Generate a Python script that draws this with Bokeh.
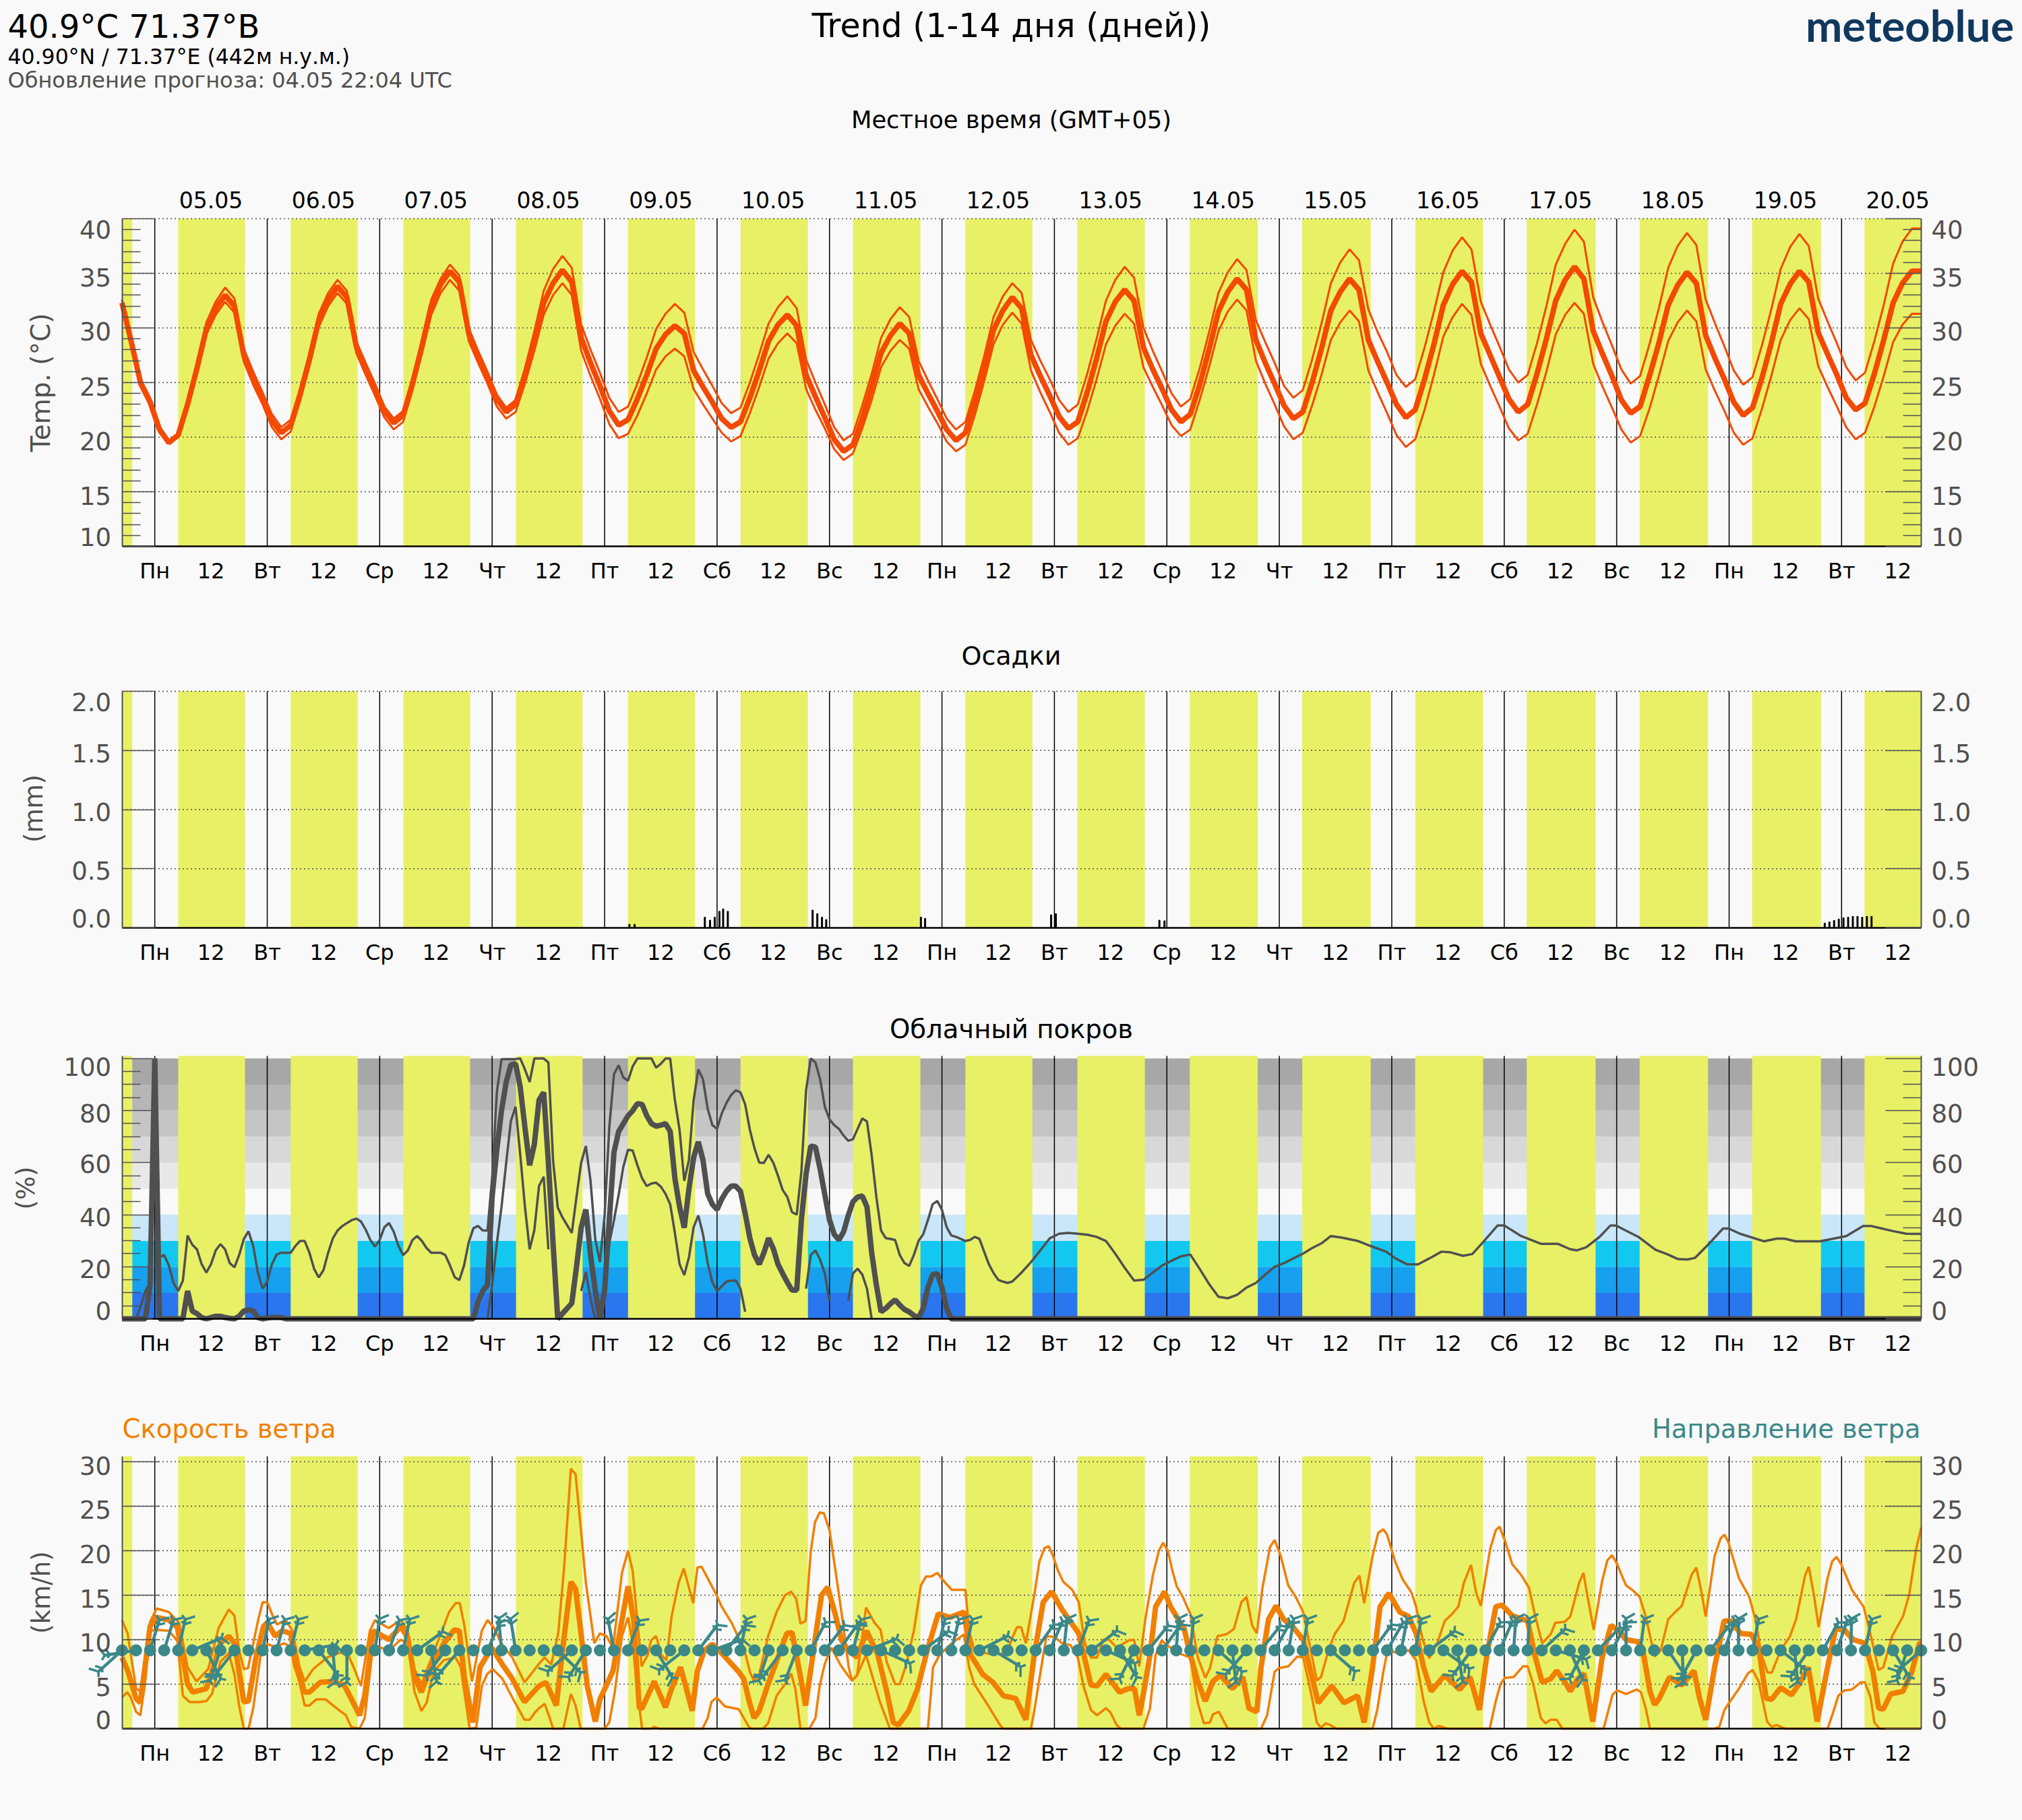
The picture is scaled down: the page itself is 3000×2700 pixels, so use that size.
from math import radians, sin, cos, pi
import numpy as np
from bokeh.plotting import figure
from bokeh.models import Label, LinearAxis, FixedTicker, Range1d
from bokeh.layouts import column
from bokeh.embed import file_html
from bokeh.resources import INLINE

nan = float("nan")

# hours counted from 04.05 17:00 local time
day_hours = [7, 31, 55, 79, 103, 127, 151, 175, 199, 223, 247, 271, 295, 319, 343, 367]
noon_hours = [19, 43, 67, 91, 115, 139, 163, 187, 211, 235, 259, 283, 307, 331, 355, 379]
day_names = ["Пн", "Вт", "Ср", "Чт", "Пт", "Сб", "Вс", "Пн", "Вт", "Ср", "Чт", "Пт", "Сб", "Вс", "Пн", "Вт"]
date_names = ["05.05", "06.05", "07.05", "08.05", "09.05", "10.05", "11.05", "12.05", "13.05", "14.05",
              "15.05", "16.05", "17.05", "18.05", "19.05", "20.05"]

sun_up = [0, 12.0, 36.0, 60.05, 84.1, 108.0, 132.0, 156.0, 180.0, 203.9, 227.9, 251.9, 276.0, 299.8, 323.9, 347.9, 371.9]
sun_down = [2.2, 26.25, 50.3, 74.3, 98.3, 122.3, 146.4, 170.4, 194.3, 218.3, 242.4, 266.5, 290.5, 314.5, 338.5, 362.6, 384]

temp_hours = list(range(0, 385, 2))
temp_mean = [32.3, 28.7, 24.9, 23.2, 20.7,
    19.5, 20.2, 23.0, 26.3, 29.9, 31.8, 33.0, 32.0, 27.5, 25.4, 23.6, 21.5,
    20.4, 21.1, 23.9, 27.1, 30.7, 32.6, 33.8, 32.8, 28.3, 26.3, 24.4, 22.4,
    21.3, 22.0, 24.9, 28.3, 32.0, 34.0, 35.2, 34.2, 29.5, 27.5, 25.5, 23.5,
    22.3, 23.0, 25.7, 28.8, 32.3, 34.1, 35.3, 34.2, 29.1, 26.8, 24.7, 22.4,
    21.1, 21.6, 23.5, 25.7, 28.1, 29.4, 30.2, 29.5, 26.1, 24.6, 23.2, 21.7,
    20.9, 21.4, 23.6, 26.1, 28.8, 30.3, 31.2, 30.2, 25.7, 23.7, 21.8, 19.8,
    18.7, 19.3, 21.7, 24.6, 27.7, 29.3, 30.4, 29.5, 25.7, 24.0, 22.4, 20.7,
    19.7, 20.4, 23.1, 26.3, 29.8, 31.6, 32.8, 31.8, 27.5, 25.6, 23.8, 21.9,
    20.8, 21.4, 24.1, 27.2, 30.6, 32.4, 33.5, 32.5, 28.2, 26.2, 24.4, 22.5,
    21.4, 22.1, 24.8, 28.0, 31.5, 33.3, 34.5, 33.5, 28.9, 26.8, 24.9, 22.9,
    21.7, 22.3, 25.0, 28.1, 31.6, 33.3, 34.5, 33.5, 28.9, 26.9, 25.0, 23.0,
    21.8, 22.5, 25.3, 28.5, 32.1, 34.0, 35.2, 34.2, 29.5, 27.5, 25.5, 23.5,
    22.3, 23.0, 25.8, 29.0, 32.5, 34.4, 35.6, 34.5, 29.7, 27.6, 25.6, 23.4,
    22.2, 22.8, 25.6, 28.6, 32.1, 33.9, 35.1, 34.1, 29.3, 27.2, 25.3, 23.2,
    22.0, 22.7, 25.4, 28.6, 32.2, 34.0, 35.2, 34.2, 29.6, 27.6, 25.7, 23.6,
    22.5, 23.1, 25.8, 28.9, 32.3, 34.1, 35.2, 35.2]
temp_low = [32.0, 28.4, 24.7, 22.9, 20.4,
    19.4, 20.0, 22.8, 25.9, 29.4, 31.2, 32.4, 31.4, 26.9, 24.8, 23.0, 20.9,
    19.8, 20.5, 23.3, 26.5, 30.1, 32.0, 33.2, 32.2, 27.7, 25.7, 23.8, 21.8,
    20.7, 21.4, 24.3, 27.6, 31.2, 33.2, 34.4, 33.4, 28.8, 26.8, 24.9, 22.8,
    21.7, 22.3, 24.9, 27.9, 31.2, 33.0, 34.1, 33.0, 27.9, 25.6, 23.5, 21.2,
    19.9, 20.3, 22.0, 24.0, 26.2, 27.4, 28.1, 27.4, 24.4, 23.0, 21.7, 20.4,
    19.6, 20.1, 22.2, 24.6, 27.2, 28.6, 29.5, 28.6, 24.4, 22.5, 20.8, 18.9,
    17.9, 18.5, 20.8, 23.4, 26.4, 27.9, 28.9, 28.1, 24.4, 22.8, 21.3, 19.6,
    18.7, 19.3, 22.0, 25.1, 28.5, 30.3, 31.4, 30.4, 26.1, 24.1, 22.3, 20.4,
    19.3, 19.9, 22.4, 25.3, 28.5, 30.2, 31.3, 30.4, 26.4, 24.6, 22.9, 21.1,
    20.1, 20.7, 23.4, 26.4, 29.7, 31.5, 32.6, 31.6, 27.0, 24.9, 23.0, 21.0,
    19.8, 20.4, 22.9, 25.7, 28.9, 30.5, 31.6, 30.6, 26.1, 24.1, 22.2, 20.2,
    19.1, 19.8, 22.5, 25.7, 29.2, 31.0, 32.2, 31.2, 26.7, 24.7, 22.8, 20.8,
    19.7, 20.3, 23.0, 26.0, 29.4, 31.2, 32.3, 31.3, 26.7, 24.6, 22.7, 20.7,
    19.5, 20.1, 22.6, 25.6, 28.8, 30.5, 31.6, 30.6, 26.2, 24.2, 22.4, 20.4,
    19.3, 19.9, 22.6, 25.6, 28.9, 30.7, 31.8, 30.8, 26.5, 24.6, 22.8, 20.9,
    19.8, 20.4, 22.8, 25.6, 28.7, 30.3, 31.3, 31.3]
temp_high = [32.6, 29.1, 25.3, 23.6, 21.0,
    19.6, 20.3, 23.3, 26.7, 30.5, 32.4, 33.7, 32.7, 28.1, 26.0, 24.1, 22.1,
    20.9, 21.6, 24.4, 27.7, 31.3, 33.2, 34.4, 33.4, 28.8, 26.8, 24.9, 22.8,
    21.7, 22.4, 25.4, 28.8, 32.6, 34.5, 35.8, 34.8, 30.0, 27.9, 26.0, 23.9,
    22.7, 23.4, 26.3, 29.7, 33.4, 35.4, 36.6, 35.5, 30.3, 28.0, 25.9, 23.6,
    22.3, 22.8, 24.9, 27.3, 29.9, 31.3, 32.2, 31.4, 27.8, 26.2, 24.7, 23.1,
    22.2, 22.7, 25.0, 27.6, 30.4, 31.9, 32.9, 31.8, 27.1, 25.0, 23.0, 20.9,
    19.7, 20.3, 22.9, 25.8, 29.1, 30.8, 31.9, 31.0, 27.0, 25.2, 23.5, 21.7,
    20.7, 21.4, 24.2, 27.4, 31.0, 32.9, 34.1, 33.2, 28.9, 27.0, 25.3, 23.4,
    22.3, 23.0, 25.8, 29.0, 32.5, 34.4, 35.6, 34.6, 30.0, 27.9, 26.0, 24.0,
    22.8, 23.5, 26.3, 29.6, 33.2, 35.1, 36.3, 35.3, 30.7, 28.7, 26.8, 24.7,
    23.6, 24.3, 27.1, 30.4, 34.1, 36.0, 37.2, 36.2, 31.7, 29.6, 27.8, 25.7,
    24.6, 25.3, 28.2, 31.5, 35.1, 37.1, 38.3, 37.2, 32.4, 30.3, 28.3, 26.2,
    25.0, 25.7, 28.6, 32.0, 35.8, 37.7, 39.0, 37.9, 32.8, 30.5, 28.4, 26.2,
    24.9, 25.6, 28.5, 31.8, 35.5, 37.5, 38.7, 37.6, 32.6, 30.4, 28.3, 26.1,
    24.8, 25.5, 28.4, 31.7, 35.4, 37.4, 38.6, 37.5, 32.7, 30.6, 28.6, 26.4,
    25.2, 25.9, 28.8, 32.1, 35.9, 37.9, 39.1, 39.1]

rain_hours = [108.3, 109.4, 124.4, 125.5, 126.5, 127.5, 128.3, 129.3, 147.4, 148.4, 149.4, 150.3,
              170.5, 171.4, 198.3, 199.3, 221.4, 222.5,
              363.4, 364.4, 365.4, 366.4, 367.4, 368.4, 369.4, 370.4, 371.4, 372.4, 373.4]
rain_mm = [0.03, 0.03, 0.09, 0.065, 0.09, 0.14, 0.16, 0.14, 0.15, 0.12, 0.09, 0.07,
           0.09, 0.08, 0.11, 0.12, 0.065, 0.06,
           0.04, 0.05, 0.063, 0.074, 0.085, 0.09, 0.097, 0.097, 0.09, 0.097, 0.097]

cloud_band_low = [0, 10, 20, 30, 40, 50, 60, 70, 80, 90]
cloud_band_colors = ["#2a76ee", "#16a0ef", "#12c8f1", "#c9e7f9", "#f9f9f9",
                     "#e8e8e8", "#d8d8d8", "#c5c5c5", "#b6b6b6", "#a7a7a7"]

cloud_mean_hours = list(range(178)) + [384]
cloud_mean = [0, 0, 0, 0, 0, 0, 13, 100, 0, 0, 0, 0, 0, 0, 10.7, 3, 2, 0.5, 0, 0.5,
    1, 1, 0.5, 0.2, 0, 1, 3, 3.5, 3, 0.5, 0, 0.3, 0.5, 0.5, 0.5] + [0] * 41 + [
    6.7, 10.7, 13, 47, 65, 80, 91, 97.6, 98, 89, 73.5, 59, 67, 84, 87, 60, 29, 0, 2, 4,
    6, 20, 35, 42, 24.5, 11, 0, 11, 38, 64, 72, 75, 78, 80, 82.7, 82.4, 78, 75, 74, 74.4,
    75, 72, 54, 43, 35, 50, 62, 68, 61, 48, 44, 42, 46, 49, 51, 51, 49, 40.5, 31, 24.5,
    21, 25.4, 31, 27, 21, 17.4, 14, 11, 11, 38, 55.7, 66.4, 66, 57.5, 47.7, 38, 32.5, 30.3, 33.4, 39.7,
    45, 46.8, 47.2, 43, 25.4, 13, 2.7, 4, 5.8, 7.3, 5.3, 3.6, 2.7, 1.3, 0.4, 4, 12, 17, 17.4, 12, 4, 0, 0]

cloud_high_hours = list(range(191)) + [192, 194, 196, 198, 200, 202, 204, 206, 208, 210, 212, 214, 216, 218,
    220, 222, 224, 226, 228, 230, 232, 234, 236, 238, 240, 242, 244, 246, 248, 250, 252, 254, 256, 258,
    260.3, 263.8, 266.6, 269.8, 271.8, 274.2, 276.6, 279, 281.6, 283.4, 286.2, 288.2, 290.6, 293.6, 295,
    298.6, 302.9, 306.5, 309, 310.5, 312.5, 315.3, 317.7, 318.9, 323.7, 327.3, 329.7, 332, 334.1, 335.7,
    338.9, 341.7, 342.9, 345.3, 350.4, 353.2, 354.8, 357.2, 362.4, 368, 371.6, 373.2, 378, 380.8, 384]
cloud_high = [0, 0, 0, 0, 4.9, 10.7, 13.8, 100, 23.6, 24.5, 20.5, 13.8, 10.7, 14.7, 32, 28.5, 26.7, 21, 17.8, 21,
    26.3, 28.7, 26.7, 21.4, 19.8, 24.5, 30.7, 33.6, 28, 17.8, 11.6, 14.3, 21, 24.7, 25.4, 25.4, 25.4, 28, 29.9, 29.9,
    25.4, 19.2, 15.9, 18.7, 25.4, 30.9, 33.9, 35.6, 36.8, 37.9, 38.5, 37.4, 34.3, 30.3, 27.8, 30.3, 35.2, 36.8, 33.4, 28,
    24.5, 26.3, 30.3, 31.8, 29.9, 27.2, 25.4, 25.4, 25.4, 24.5, 20.5, 16, 14.9, 20.5, 29.4, 34.8, 35.7, 33.9, 33.9, 54,
    87, 99.8, 99.8, 99.8, 99.8, 100, 95.8, 91, 100, 100, 100, 98.5, 61, 42.8, 39, 36, 33, 46.8, 60, 66.4,
    53, 30.7, 21.8, 39.7, 73.5, 94, 97.4, 92.7, 91.5, 97, 100, 100, 100, 100, 96.5, 98, 100, 100, 84, 72.6,
    53, 61, 84, 95.8, 92, 80.7, 74.4, 73, 78.9, 82.9, 86, 87.8, 87, 82.4, 72.6, 65.5, 60, 59.9, 63, 60,
    55, 49.5, 46.8, 41, 40, 56.6, 87.8, 100, 98.5, 92, 81.5, 76.6, 74.4, 73, 70.4, 68.4, 69, 73, 77, 75.8,
    62.8, 46.8, 33.9, 31, 30.7, 30.3, 24.5, 21.4, 20.3, 24.5, 29.9, 32.5, 37.9, 44, 45.3, 41.9, 35.2, 32, 31.5, 30.7,
    29.9, 30.3, 31.5, 30.7, 25.8, 21, 17.6, 15, 14.3, 13.8, 14.3,
    17.8, 21.8, 26.3, 30.9, 32.7, 33, 32.7, 32.3, 31.5, 29.9, 25, 19.6, 14.7, 15,
    17.8, 20.5, 22.3, 24, 24.7, 19.2, 13.4, 8.5, 7.9, 9.2, 12, 13.8, 17, 20, 21.4, 23.2, 25, 27.2, 29, 31.8,
    31.2, 29.9, 27.9, 25.8, 23.2, 21, 20.9, 23.2, 25.8, 25.6, 24.2, 24.9, 29.7, 35.9, 35.9,
    31.8, 28.8, 28.8, 26.8, 26.3, 27.5, 31.4, 35.9, 35.8, 31.4, 26.5, 24.9, 23, 22.8, 23.4,
    29.2, 34.7, 34.7, 32.7, 29.8, 30.8, 30.8, 29.8, 29.8, 31.8, 35.7, 35.7, 33.7, 32.7, 32.6]

cloud_low_hours = [78, 79, 80, 81, 82, 83, 84, 85, 86, 87, 88, 89, 90, 91, 92,
    98, 99, 100, 101, 102,
    103, 104, 105, 106, 107, 108, 109, 110, 111, 112, 113, 114, 115, 116, 117, 118,
    119, 120, 121, 122, 123, 124, 125, 126, 127, 128, 129, 130, 131, 132, 133, 134,
    146, 147, 148, 149, 150, 151, 152,
    155, 156, 157, 158, 159, 160]
cloud_low = [0, 13, 29, 43, 60, 76, 81.5, 63, 43, 26.7, 34, 51, 54.6, 26.7, nan,
    10.7, 18, 7.6, 0, nan,
    11.6, 29, 37.9, 47.7, 58.4, 65, 64.6, 59, 54, 51, 52, 52.3, 50.8, 48, 44, 33,
    21, 16.8, 23.6, 35.2, 39.7, 32.5, 21.4, 14, 10.7, 12.5, 14.3, 14.7, 14.7, 11.6, 2.7, nan,
    11.6, 24.5, 26.3, 22.7, 17.4, 6.7, nan,
    6.9, 17.4, 19.3, 17, 11.6, 0]

wind_mean_hours = [0, 1.3, 3, 3.9, 4.9, 6, 7.4, 10, 11.8, 13, 14, 15.1, 18, 19.5, 21, 22.8, 24, 25, 26, 27, 28.7,
    30.2, 31, 32.7, 34.2, 36, 37, 39, 40, 42.3, 44.9, 47.4, 48.9, 50.7, 51.8, 53.6, 57, 59.5, 61, 62.4, 63.9,
    65.8, 68.7, 70.9, 72, 73.1, 74.9, 76.4, 78.9, 81.2, 83.3, 85.9, 89, 90.5, 92.7, 94.2, 95.8, 96.8, 97.9, 99.3,
    101, 102, 104.8, 106.3, 108, 109.2, 110.4, 111, 113.6, 116, 117.3, 119.2, 120.3, 121.7, 122.8, 124.3, 126,
    128.3, 131.6, 132.7, 133.8, 134.9, 136, 137.9, 140, 141.9, 143, 144.5, 145.9, 147.8, 149.3, 150.6, 152.2,
    153.6, 155, 156.9, 158.9, 161.3, 163.2, 164.6, 165.7, 167.9, 169.8, 171.6, 174.2, 176.7, 179.7, 181.1,
    183.7, 185.9, 188.1, 190.7, 192.9, 194.7, 196.6, 198.4, 200.6, 204.2, 206.8, 208.1, 210, 211.6, 212.9,
    214.8, 216.1, 217.1, 218, 219.4, 220.6, 222.5, 223.8, 225.4, 226.7, 228, 229.6, 231.2, 232.8, 234.4, 237,
    239.2, 240.5, 242.2, 243.1, 244.7, 246.3, 247.9, 249.8, 252.1, 253.7, 255.3, 258.2, 260.8, 263.7, 265.1,
    266.9, 268.5, 270.4, 272.7, 274.6, 276.2, 277.8, 279.4, 282.3, 285.5, 287.7, 289.7, 291.3, 293.2, 294.5,
    296.7, 300, 301.5, 303.1, 304.9, 306.2, 307.9, 309.1, 310.7, 312, 313.9, 315.9, 317.8, 319.4, 321, 323.3,
    324.5, 326.1, 327.1, 328.1, 330.3, 332.9, 335.5, 336.7, 338, 339.9, 341.9, 343.5, 345.4, 347.7, 349.3,
    350.9, 352.1, 354, 356.3, 357.9, 359.9, 361.8, 363.7, 365.7, 367.6, 369.5, 372, 373.7, 374.9, 375.9, 377.5,
    380.1, 382, 383.6, 384]
wind_mean = [8, 6.4, 3.4, 2.9, 6.9, 11.5, 12.5, 12.2, 11.4, 8, 5, 4.1, 4.5, 6.9, 9.6, 10.4, 9.6, 6.4, 3, 3.1, 8.3,
    11.5, 11.9, 10.4, 11, 10.7, 7.2, 4.1, 4.1, 5.2, 5.3, 4.9, 3.4, 1.5, 3.7, 11, 10, 11.5, 10.2, 5.8, 4.1,
    6.7, 9.6, 11.1, 11, 5.6, 0.7, 6.9, 9.1, 7.2, 5.6, 3, 4.8, 5.2, 2.6, 9.6, 16.5, 15.7, 11, 4.8,
    0.8, 3.3, 6.5, 11, 16, 12.3, 2.3, 2.3, 5.3, 2.4, 4.5, 6.9, 4.8, 2, 6.5, 8.8, 9.5,
    8.3, 6.4, 5.6, 3.2, 1.2, 2, 5, 8, 10.7, 10.8, 6.7, 2.6, 9.6, 15, 15.9, 12.9,
    9.9, 8.8, 8, 11, 8.3, 4.2, 0.7, 0.4, 2, 4.5, 8.3, 12.9, 12.5, 13.1, 8.3,
    6.1, 5.2, 3.7, 3.4, 1, 8.3, 14.2, 15.4, 13.4, 10.7, 4.9, 4.8, 6.1, 5, 4.1,
    4.5, 4.5, 1.5, 3.9, 8.3, 13.7, 15.4, 13.7, 12.3, 11.2, 8.3, 5.3, 3.1, 5.3, 6, 4.5,
    5.8, 2.3, 1.9, 6.9, 12.3, 13.8, 12.3, 11.5, 10, 6.4, 2.9, 4.8, 2.9, 3.7, 0.7,
    6.9, 13.7, 15.2, 13.1, 12.6, 10.7, 6.9, 4.2, 6, 4.4, 5.8, 2.1, 8.3, 13.7, 13.9,
    12.7, 12.1, 8.3, 5.2, 5.6, 6.5, 5.3, 4.2, 5.6, 6.2, 0.8, 8, 11.6, 11, 10, 9.8,
    9.1, 4.2, 2.7, 3.4, 5.8, 4.9, 6.5, 3.4, 1, 6.9, 12.1, 12.1, 10.7, 10.6, 9.1,
    3.4, 3.3, 4.6, 3.8, 5, 6.9, 0.8, 6.1, 11.2, 11.1, 10, 9.6, 6.4, 2.3, 2.2, 3.9,
    4.2, 6.4, 9.6, 9.6]

wind_high_hours = [0, 1.2, 3, 3.9, 6, 7.4, 10, 12.2, 14, 15.9, 18.4, 20.6, 22.8, 24, 25, 26, 26.9, 29.1, 30, 31,
    32, 33.1, 34.9, 36.4, 37.9, 39, 40.8, 43.8, 46.3, 48.1, 49.6, 51, 52.9, 54, 56.9, 59.5, 61, 62.4, 63.9,
    66.1, 68.3, 69.8, 71.2, 72.1, 73.1, 74.7, 76.8, 78, 79.3, 81.2, 83.3, 85.9, 87.7, 89, 90.2, 91.6, 93.1,
    94.3, 95.8, 96.8, 97.9, 99, 100.8, 102, 103.4, 104.8, 106.7, 108, 109, 110.9, 112.2, 112.9, 114, 115.1,
    116.2, 117.3, 118.8, 119.9, 121.9, 122.8, 123.7, 125, 126.9, 128, 130.2, 131.6, 133.1, 134, 134.9, 136,
    137.9, 139.7, 141.5, 142.8, 143.9, 144.8, 145.9, 147, 147.9, 148.9, 149.8, 151, 152.2, 153.6, 155.1,
    155.8, 156.9, 158.8, 160.6, 161.9, 163.2, 165, 166, 167.2, 169, 170.5, 171.6, 172.7, 174, 175.7, 177.1,
    180, 180.8, 181.9, 185, 188.8, 190, 191, 191.9, 192.9, 194.7, 195.8, 196.9, 197.8, 198.7, 199.8, 200.9,
    202.8, 204.2, 205.5, 206.8, 208.1, 209.4, 210.7, 212.3, 214.8, 216, 217.1, 218.4, 220, 221.3, 222.2,
    223.2, 224.2, 225.1, 226.4, 228, 229.6, 231.2, 232.2, 233.8, 235.7, 237.3, 238.9, 240, 241.2, 242.2,
    243.4, 245, 246, 247.3, 248.9, 250.5, 252.1, 253, 255, 255.9, 257.5, 258.8, 260.7, 263, 264.1, 265.1,
    266.9, 268.1, 269.2, 270, 271.7, 273.3, 275.2, 276.2, 277.5, 279, 280.7, 282.3, 283.9, 285.2, 286.4,
    287.9, 289, 290, 292, 293.2, 294, 295.1, 296.7, 298.7, 300.3, 301.5, 303.1, 304.9, 305.9, 307.9, 309.1,
    311, 311.9, 313, 314.1, 315.9, 317, 318, 319.1, 320.1, 321, 322.3, 323.9, 325.2, 327.1, 328.4, 330,
    331.3, 332.9, 335, 336, 337, 338, 339.9, 341.2, 342, 342.8, 345.1, 347.3, 348.6, 349.9, 351.2, 352.1,
    354, 356, 357.3, 359.2, 360, 361.1, 362.1, 364, 365, 365.9, 366.9, 369.2, 371.7, 373, 374.9, 375.9,
    377.8, 380.1, 381.4, 383, 384]
wind_high = [12.2, 10.7, 4.5, 4.2, 12, 13.5, 13.1, 11.9, 6.9, 5.3, 6.7, 11.3, 13.4, 12.7, 8.8, 6.7, 6.8, 12.3, 14.2, 14.2,
    12.9, 11.7, 12.2, 11, 6.9, 5.3, 6.7, 8, 8.5, 8.5, 6.7, 4.8, 11, 12.2, 11.3, 12.2, 11, 6.7, 5,
    8, 11, 13.1, 14.1, 14.1, 11.5, 5.3, 11, 12.2, 11.4, 9.4, 8, 5.2, 6.4, 7.3, 8, 7.2, 10.7,
    17.7, 29.2, 28.6, 22.6, 16.4, 9.6, 10.7, 10.4, 9.1, 17.5, 20, 17.7, 7, 8.3, 9.9, 10.4, 8.3,
    7.7, 12.6, 16.4, 18, 14.1, 18.1, 18.2, 16.9, 15, 13.7, 11.8, 10.2, 8.3, 6.4, 5.3, 6.1,
    10.4, 13.1, 15, 15.4, 14.6, 11.8, 12.1, 19.9, 23.2, 24.3, 24.2, 22.3, 18, 12.9, 6.9,
    5.4, 6, 13.6, 11.9, 11.1, 7.5, 5, 5, 6.9, 11, 16.1, 17.1, 17.1, 17.5, 16.4, 15.6,
    15.6, 11, 8.8, 8.4, 8.4, 10.2, 11.4, 11.4, 9.6, 15, 18.8, 20.3, 20.5, 19.4, 17.7, 16.5,
    15.6, 14.2, 9.6, 8, 8, 10, 10, 9.1, 9.9, 10, 7, 12.3, 17.2, 20, 20.9,
    20, 17.7, 16, 14.8, 12.9, 8, 5.7, 6.8, 10.4, 10.6, 11.2, 14.2, 14.8, 11.6, 10.7,
    15.8, 20.4, 21.2, 19.4, 16.1, 14.8, 13.1, 10.7, 5.4, 5.8, 8.8, 10.6, 12.1, 16.4, 17.2, 14.1,
    19.4, 22, 22.4, 21.8, 18.8, 16.8, 15.3, 13.7, 10.2, 7.9, 9.6, 12.1, 12.9, 13.7, 16.4,
    18.4, 15.3, 13.8, 20.2, 22.3, 22.7, 21.2, 18.5, 17.2, 15.8, 12.9, 9.6, 10.6, 11.9, 12, 12.6,
    16.4, 17.5, 14.2, 11.1, 16.6, 18.9, 19.5, 18.5, 17.2, 16.1, 15.6, 14.8, 12.6, 8.1, 8.8, 12.3,
    13, 13.8, 17.3, 18.1, 15.6, 12.6, 19.4, 21.4, 21.8, 21, 16.9, 14.8, 12.3, 8.3, 6.3, 6.3,
    8.8, 10.4, 12.3, 17.2, 18.2, 15, 11.4, 16.9, 18.8, 19.3, 18.5, 15.6, 13.7, 11, 6.6, 6.9,
    10.4, 12.6, 15, 20.4, 22.6]

wind_low_hours = [0, 1.1, 1.9, 3, 3.9, 4.9, 6, 7.4, 10, 11.8, 13, 14.4, 16.6, 18, 19.2, 21, 22.8, 24, 25, 26, 27, 28,
    29.8, 31, 32.7, 34.6, 36, 37.1, 39, 40, 41.5, 43.4, 46.3, 47.8, 48.9, 50.7, 51.8, 53.6, 57, 59.5, 61, 62.4,
    63.9, 65, 66.5, 68.7, 71.2, 72.3, 73.4, 74.2, 75.6, 76.8, 77.9, 79.1, 81.2, 83.3, 85.9, 87, 88.1, 89, 90.2,
    91.3, 92, 94.2, 95.8, 96.8, 97.9, 103, 104, 105.2, 106.7, 108, 109, 110, 111, 112.9, 113.6, 114.7, 123.9,
    125, 125.8, 126.9, 128.7, 131.6, 133.8, 134.3, 136.8, 137.9, 139.7, 141.5, 142.8, 143.7, 144.8, 146.7, 148,
    148.9, 150, 151.4, 153.3, 154.9, 155.8, 156.9, 158.8, 161.7, 163.9, 172, 173.1, 174.5, 177.1, 179.7, 180.8,
    181.9, 184.5, 187.4, 188.1, 194, 194.7, 196.2, 197.3, 199.1, 200.6, 202.4, 204, 205.2, 206.8, 208.1, 210, 211,
    212.3, 213.2, 218, 219.4, 220.6, 221.9, 223.5, 225.4, 228, 229.6, 230.9, 232.2, 232.8, 234.1, 236, 243.1,
    244.4, 246, 246.9, 248.9, 250.8, 252.1, 253.7, 255, 255.9, 256.9, 257.9, 259.2, 266.9, 267.9, 269.2, 270.1,
    272.3, 274.6, 276.2, 277.8, 279, 280, 281, 282.9, 291.9, 293.2, 294.2, 295.1, 297, 299, 300, 301.2, 302.8,
    303.8, 304.9, 306.2, 307.4, 316.2, 318.1, 319.1, 321, 323.3, 324.2, 325.2, 326.1, 339.9, 340.9, 342, 343.1,
    345.1, 347, 348, 349.3, 351.1, 352.1, 353.1, 355, 364, 365, 366.3, 367.6, 369.2, 371.1, 372, 373.2, 374, 375.1, 384]
wind_low = [3.5, 4.1, 3.5, 1.9, 1.5, 5, 11, 11.1, 11, 9.9, 3.7, 3, 3, 3.1, 3.9, 7.5, 8.5, 6.1, 2.6, 0, 0, 2.3,
    9.1, 9.5, 9.2, 9.6, 9.2, 6.9, 2.6, 2.6, 3.3, 3.3, 2.1, 1.5, 0.2, 0, 1.2, 9.4, 8.8, 10, 9.6, 4.2,
    2, 2.9, 6.4, 7.7, 8, 6.9, 2.9, 0, 0.1, 4.8, 6.1, 6.7, 5.6, 3.5, 1, 1, 1.8, 2.3, 2.8,
    1.2, 0, 0, 3.9, 2.6, 0, 0, 0.7, 4.2, 10.4, 12.5, 9.6, 4.2, 0, 0, 0.2, 0, 0,
    1.2, 3, 3.5, 2.5, 2.2, 0.2, 0, 0, 0.6, 3.7, 5, 6.2, 4.5, 0, 0, 1.2,
    4.8, 7.3, 9.1, 7.2, 6, 5.4, 6, 8.3, 3.1, 0, 0, 6.9, 8.3, 9.6, 10.6, 6.9,
    5, 2.9, 0.4, 0, 0, 2, 6.9, 10.4, 10.3, 9.6, 9.4, 8, 4.8, 2.1, 1.5, 2.3, 1.8,
    0.4, 0, 0, 2.3, 8.3, 9.9, 9.2, 8.5, 8, 2.9, 0.6, 0.7, 1.6, 1.9, 0, 0,
    1.5, 6.4, 6.8, 7, 8.1, 8, 4.2, 0.7, 0.1, 0.6, 0.4, 0, 0, 2.1, 6.4, 8.8,
    8.5, 8.8, 7.7, 3.1, 0.7, 0, 0.3, 0, 0, 3.1, 5, 5.7, 5.8, 7, 7, 5, 1.2,
    0.6, 1, 1, 0, 0, 3.8, 4.3, 3.9, 4.4, 4.1, 2.3, 0, 0, 0.2, 2.1, 3,
    4.5, 6.2, 6.6, 5.3, 0.8, 0.2, 0.4, 0, 0, 1.5, 3.7, 4.3, 4.4, 5.2, 5.2, 3.5, 0.7, 0, 0]

wind_dir_hours = list(range(0, 385, 3))
wind_dir = [228, 261, 17, 17, 13, 67, 153, 199, 218, nan,
    12, 15, 14, 80, 142, 175, 180, nan,
    8, 19, 12, 54, 170, 217, 221, nan,
    24, 355, 351, nan, nan, 134, 229, 213, nan, 349, 21, nan, 149, nan, 232,
    37, 70, 38, 11, nan, 198, 217, 201, 28, 38, 36, 15, 69, 114, nan, nan,
    53, 14, 14, 13, 63, 121, nan, nan, 35, 24, 6, 21, 52, 114, 148, 207,
    39, 36, 4, 6, nan, 132, 174, 221, 39, 29, 9, 9, nan, 131, nan, nan,
    36, 30, 11, 11, 53, 125, 170, 217, 28, 24, 4, 3, 48, 106, 156, 207,
    44, 28, 0, 8, nan, 146, 178, 209, 37, 19, 0, 11, nan, 128, 175, 215,
    29, 19, 1, 12, nan, 149, 199, 229]
wind_dot_level = 8.8

temp_ticks = [10, 15, 20, 25, 30, 35, 40]
temp_minor = [11, 12, 13, 14, 16, 17, 18, 19, 21, 22, 23, 24, 26, 27, 28, 29, 31, 32, 33, 34, 36, 37, 38, 39]
temp_labels = ["10", "15", "20", "25", "30", "35", "40"]
temp_nudge = [-14, 6, 6, 6, 5, 6, 16]
rain_ticks = [0, 0.5, 1.0, 1.5, 2.0]
rain_labels = ["0.0", "0.5", "1.0", "1.5", "2.0"]
rain_nudge = [-14, 3, 3, 4, 16]
cloud_ticks = [0, 20, 40, 60, 80, 100]
cloud_minor = [5, 10, 15, 25, 30, 35, 45, 50, 55, 65, 70, 75, 85, 90, 95]
cloud_labels = ["0", "20", "40", "60", "80", "100"]
cloud_nudge = [-12, 3, 3, 2, 4, 12]
wind_ticks = [0, 5, 10, 15, 20, 25, 30]
wind_labels = ["0", "5", "10", "15", "20", "25", "30"]
wind_nudge = [-13, 4, 4, 5, 5, 5, 6]

BG = "#f9f9f9"
YELLOW = "#e8f066"
GREY = "#505050"
TEMP_C = "#f44900"
WIND_C = "#f18000"
TEAL = "#3b8889"
FONT = "DejaVu Sans"

# page geometry, in pixels of the 3000 wide page
X0, X1 = 180.5, 2850.0
PX_H = (X1 - X0) / 384
PAGE_W = 3000

geom = {}


def hour_of(px):
    return (px - X0) / PX_H


def make_panel(page_top, page_bottom, top_px, y_top, bot_px, y_bot):
    # the frame fills the whole figure, so nothing outside the hour range gets clipped
    scale = (bot_px - top_px) / (y_top - y_bot)
    p = figure(frame_width=PAGE_W, frame_height=page_bottom - page_top,
               min_border_left=0, min_border_right=0, min_border_top=0, min_border_bottom=0,
               x_axis_type=None, y_axis_type=None, tools="", toolbar_location=None,
               output_backend="svg", background_fill_color=BG, border_fill_color=BG,
               outline_line_color=None,
               x_range=Range1d(hour_of(0), hour_of(PAGE_W)),
               y_range=Range1d(y_bot + (bot_px - page_bottom) / scale, y_bot + (bot_px - page_top) / scale))
    geom[p.id] = (bot_px, scale, y_bot, y_top)
    return p


def text_at(p, px, py, txt, size, color="black", align="center", angle=0, weight="normal", font=FONT):
    bot_px, scale, y_bot, _ = geom[p.id]
    p.add_layout(Label(x=hour_of(px), y=y_bot + (bot_px - py) / scale, text=txt, text_font=font,
                       text_font_size=f"{size}px", text_color=color, text_align=align,
                       text_baseline="middle", angle=angle, text_font_style=weight))


def sun_bands(p):
    _, _, y_bot, y_top = geom[p.id]
    p.quad(left=sun_up, right=sun_down, bottom=y_bot, top=y_top, color=YELLOW, line_color=None)


def day_lines(p):
    _, _, y_bot, y_top = geom[p.id]
    p.segment(x0=day_hours, x1=day_hours, y0=y_bot, y1=y_top, line_color="black", line_width=1.5)


def h_dots(p, ticks):
    p.segment(x0=0, x1=384, y0=ticks, y1=ticks, line_color=GREY, line_width=1.5, line_dash="dotted")


def axes(p, ticks, labels, nudges, minor=None, tick_left=49, tick_right=53):
    _, _, y_bot, y_top = geom[p.id]
    bottom = LinearAxis(fixed_location=y_bot, bounds=(0, 384),
                        ticker=FixedTicker(ticks=sorted(day_hours + noon_hours)),
                        major_label_overrides={**{h: n for h, n in zip(day_hours, day_names)},
                                               **{h: "12" for h in noon_hours}},
                        axis_line_color="black", axis_line_width=2.5,
                        major_tick_line_color=None, minor_tick_line_color=None,
                        major_label_standoff=11, major_label_text_font=FONT,
                        major_label_text_font_size="32px", major_label_text_color="black")
    p.add_layout(bottom, "below")
    for hour, side, tick_in, offs, anchor in ((0, "left", tick_left, -16, "right"),
                                              (384, "right", tick_right, 15, "left")):
        axis = LinearAxis(fixed_location=hour, bounds=(y_bot, y_top),
                          ticker=FixedTicker(ticks=ticks, minor_ticks=minor or []),
                          major_label_overrides={t: "" for t in ticks},
                          axis_line_color=GREY, axis_line_width=2,
                          major_tick_line_color=GREY, major_tick_line_width=1.5,
                          minor_tick_line_color=GREY, minor_tick_line_width=1.5,
                          major_tick_in=tick_in, major_tick_out=0, minor_tick_in=27, minor_tick_out=0)
        p.add_layout(axis, side)
        for t, lab, n in zip(ticks, labels, nudges):
            p.add_layout(Label(x=hour, y=t, x_offset=offs, y_offset=-n, text=lab, text_font=FONT,
                               text_font_size="37px", text_color=GREY, text_align=anchor,
                               text_baseline="middle"))


# temperature
p1 = make_panel(0, 900, 324, 40, 810, 10)
sun_bands(p1)
h_dots(p1, temp_ticks[1:])
day_lines(p1)
p1.line(temp_hours, temp_low, line_color=TEMP_C, line_width=3)
p1.line(temp_hours, temp_high, line_color=TEMP_C, line_width=3)
p1.line(temp_hours, temp_mean, line_color=TEMP_C, line_width=8)
axes(p1, temp_ticks, temp_labels, temp_nudge, minor=temp_minor)
top_axis = LinearAxis(fixed_location=40, bounds=(0, 384), ticker=FixedTicker(ticks=noon_hours),
                      major_label_overrides={h: d for h, d in zip(noon_hours, date_names)},
                      axis_line_color=None, major_tick_line_color=None, minor_tick_line_color=None,
                      major_label_standoff=10, major_label_text_font=FONT,
                      major_label_text_font_size="33px", major_label_text_color="black")
p1.add_layout(top_axis, "above")
text_at(p1, 11, 38, "40.9°C 71.37°B", 48, align="left")
text_at(p1, 11, 83, "40.90°N / 71.37°E (442м н.у.м.)", 31.5, align="left")
text_at(p1, 11, 118, "Обновление прогноза: 04.05 22:04 UTC", 32, color=GREY, align="left")
text_at(p1, 1500, 38, "Trend (1-14 дня (дней))", 49)
text_at(p1, 1500, 177, "Местное время (GMT+05)", 35.3)
text_at(p1, 2833, 36, "meteoblue", 65, color="#10385f", weight="bold", font="Lato")
text_at(p1, 60, 567, "Temp. (°C)", 39, color=GREY, angle=pi / 2)

# precipitation
p2 = make_panel(900, 1460, 1025, 2, 1376, 0)
sun_bands(p2)
h_dots(p2, rain_ticks[1:])
day_lines(p2)
p2.vbar(x=rain_hours, top=rain_mm, bottom=0, width=0.28, color="black")
axes(p2, rain_ticks, rain_labels, rain_nudge)
text_at(p2, 1500, 972, "Осадки", 38)
text_at(p2, 50, 1199, "(mm)", 37, color=GREY, angle=pi / 2)

# cloud cover
p3 = make_panel(1460, 2040, 1566, 101, 1956, 0)
p3.quad(left=0, right=384, bottom=cloud_band_low, top=[b + 10 for b in cloud_band_low],
        color=cloud_band_colors, line_color=None)
sun_bands(p3)
day_lines(p3)
p3.line(cloud_low_hours, cloud_low, line_color=GREY, line_width=3.5)
p3.line(cloud_high_hours, cloud_high, line_color=GREY, line_width=3.5)
p3.line(cloud_mean_hours, cloud_mean, line_color=GREY, line_width=8)
axes(p3, cloud_ticks, cloud_labels, cloud_nudge, minor=cloud_minor, tick_left=45)
text_at(p3, 1500, 1526, "Облачный покров", 38.6)
text_at(p3, 38, 1762, "(%)", 37, color=GREY, angle=pi / 2)

# wind
p4 = make_panel(2040, 2700, 2160, 30.6, 2564, 0)
sun_bands(p4)
h_dots(p4, wind_ticks[1:])
day_lines(p4)
p4.line(wind_low_hours, wind_low, line_color=WIND_C, line_width=3.5)
p4.line(wind_high_hours, wind_high, line_color=WIND_C, line_width=3.5)
p4.line(wind_mean_hours, wind_mean, line_color=WIND_C, line_width=8)

PX_Y = (2564 - 2169.3) / 30
stem_xs, stem_ys, barb_xs, barb_ys = [], [], [], []
for hour, d in zip(wind_dir_hours, wind_dir):
    if np.isnan(d):
        continue
    a = radians(d)
    ux, uy = sin(a), cos(a)
    stem_xs.append([hour, hour + 47 * ux / PX_H])
    stem_ys.append([wind_dot_level, wind_dot_level + 47 * uy / PX_Y])
    # feathers near the free end of the stem
    for frac, length, turn in ((1.0, 15, 60), (0.84, 11, 60), (1.0, 8, -50), (0.84, 6, -50)):
        bx, by = 47 * frac * ux, 47 * frac * uy
        b = a + radians(turn)
        barb_xs.append([hour + bx / PX_H, hour + (bx + length * sin(b)) / PX_H])
        barb_ys.append([wind_dot_level + by / PX_Y, wind_dot_level + (by + length * cos(b)) / PX_Y])
p4.multi_line(stem_xs, stem_ys, line_color=TEAL, line_width=4.5)
p4.multi_line(barb_xs, barb_ys, line_color=TEAL, line_width=3.5)
p4.scatter(wind_dir_hours, [wind_dot_level] * len(wind_dir_hours), size=17, color=TEAL)
axes(p4, wind_ticks, wind_labels, wind_nudge, tick_left=55, tick_right=54)
text_at(p4, 181, 2119, "Скорость ветра", 38.5, color=WIND_C, align="left")
text_at(p4, 2849, 2119, "Направление ветра", 38.4, color=TEAL, align="right")
text_at(p4, 61, 2362, "(km/h)", 37, color=GREY, angle=pi / 2)

page = column(p1, p2, p3, p4, spacing=0)
open("out.html", "w").write(file_html(page, INLINE))
